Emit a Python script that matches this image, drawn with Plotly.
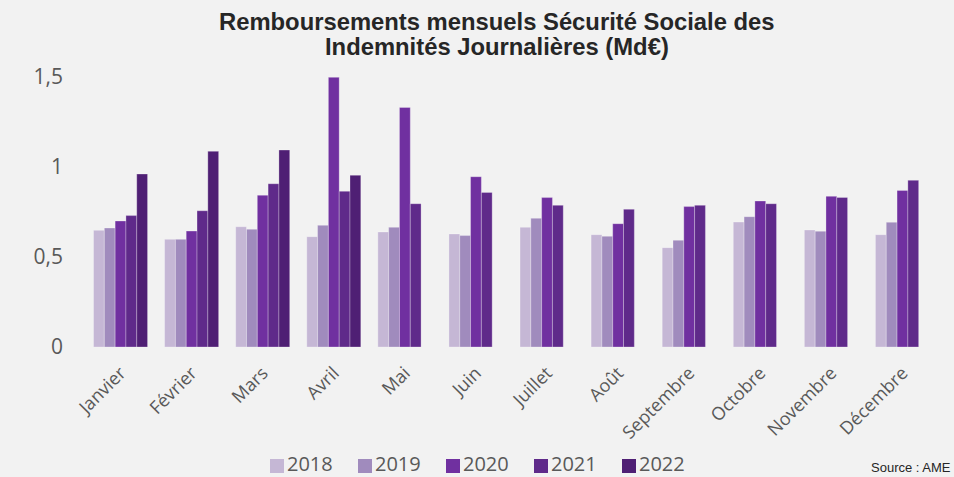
import plotly.graph_objects as go

months = ["Janvier", "Février", "Mars", "Avril", "Mai", "Juin", "Juillet",
          "Août", "Septembre", "Octobre", "Novembre", "Décembre"]
years = ["2018", "2019", "2020", "2021", "2022"]

v2018 = [0.648, 0.598, 0.668, 0.613, 0.639, 0.628, 0.665, 0.624, 0.552, 0.694, 0.650, 0.624]
v2019 = [0.661, 0.598, 0.654, 0.676, 0.665, 0.619, 0.715, 0.615, 0.593, 0.724, 0.643, 0.693]
v2020 = [0.700, 0.644, 0.843, 1.498, 1.331, 0.946, 0.830, 0.685, 0.780, 0.811, 0.837, 0.870]
v2021 = [0.730, 0.757, 0.907, 0.865, 0.796, 0.859, 0.787, 0.765, 0.787, 0.796, 0.831, 0.926]
v2022 = [0.961, 1.087, 1.094, 0.954, None, None, None, None, None, None, None, None]

series = [v2018, v2019, v2020, v2021, v2022]
colors = ["#c5b7d5", "#a08bbd", "#7030a0", "#5f2a8a", "#4f1f74"]

title_lines = ["Remboursements mensuels Sécurité Sociale des",
               "Indemnités Journalières (Md€)"]

W, H = 954, 477
ML, MR, MT, MB = 85, 16, 59, 130
PW, PH = W - ML - MR, H - MT - MB

fig = go.Figure()
for name, vals, col in zip(years, series, colors):
    fig.add_trace(go.Bar(
        x=months, y=vals, name=name,
        marker=dict(color=col, line=dict(color="rgba(255,255,255,0.35)", width=0.8)),
        showlegend=False,
    ))

def px_to_paper_x(px):
    return (px - ML) / PW

def px_to_paper_y(py):
    return (H - MB - py) / PH

# custom legend (squares + labels) under the chart
leg_x0, leg_step, sq = 270, 88, 14
leg_yc = 463
for i, (name, col) in enumerate(zip(years, colors)):
    x0 = leg_x0 + i * leg_step
    fig.add_shape(type="rect", xref="paper", yref="paper",
                  x0=px_to_paper_x(x0), x1=px_to_paper_x(x0 + sq),
                  y0=px_to_paper_y(473), y1=px_to_paper_y(459),
                  fillcolor=col, line=dict(width=0))
    fig.add_annotation(text=name, xref="paper", yref="paper",
                       x=px_to_paper_x(x0 + sq + 2), y=px_to_paper_y(leg_yc),
                       xanchor="left", yanchor="middle", showarrow=False,
                       borderpad=0,
                       font=dict(family="Open Sans", size=20, color="#595959"))

# title, two lines
for line, yc in zip(title_lines, [21, 46]):
    fig.add_annotation(
        text="<b>" + line + "</b>",
        xref="paper", yref="paper", x=px_to_paper_x(497), y=px_to_paper_y(yc),
        xanchor="center", yanchor="middle", showarrow=False, borderpad=0,
        font=dict(family="Liberation Sans, Arial", size=23.8, color="#262626"),
    )

fig.update_layout(
    width=W, height=H,
    paper_bgcolor="#f2f2f2", plot_bgcolor="#f2f2f2",
    margin=dict(l=ML, r=MR, t=MT, b=MB),
    barmode="group", bargap=0.24, bargroupgap=0,
    font=dict(family="Open Sans", color="#595959"),
    showlegend=False,
)
fig.update_yaxes(
    range=[0, 1.6], tickvals=[0, 0.5, 1, 1.5], ticktext=["0", "0,5", "1", "1,5"],
    showgrid=False, zeroline=False, showline=False,
    tickfont=dict(family="Open Sans", size=21, color="#595959"), ticks="",
    ticklabelstandoff=21,
)
fig.update_xaxes(
    tickangle=-45, showgrid=False, showline=False, ticks="",
    tickfont=dict(family="Open Sans", size=18, color="#595959"),
    ticklabelstandoff=11,
)
fig.add_annotation(
    text="Source : AME", xref="paper", yref="paper", x=px_to_paper_x(952), y=px_to_paper_y(467),
    xanchor="right", yanchor="middle", showarrow=False, borderpad=0,
    font=dict(family="Liberation Sans, Arial", size=13, color="#262626"),
)
fig.write_html("out.html", config={"displayModeBar": False})

with open("out.html", "r", encoding="utf-8") as f:
    html = f.read()
html = html.replace("<head>", "<head><style>html,body{margin:0;padding:0;overflow:hidden;}</style>", 1)
with open("out.html", "w", encoding="utf-8") as f:
    f.write(html)
